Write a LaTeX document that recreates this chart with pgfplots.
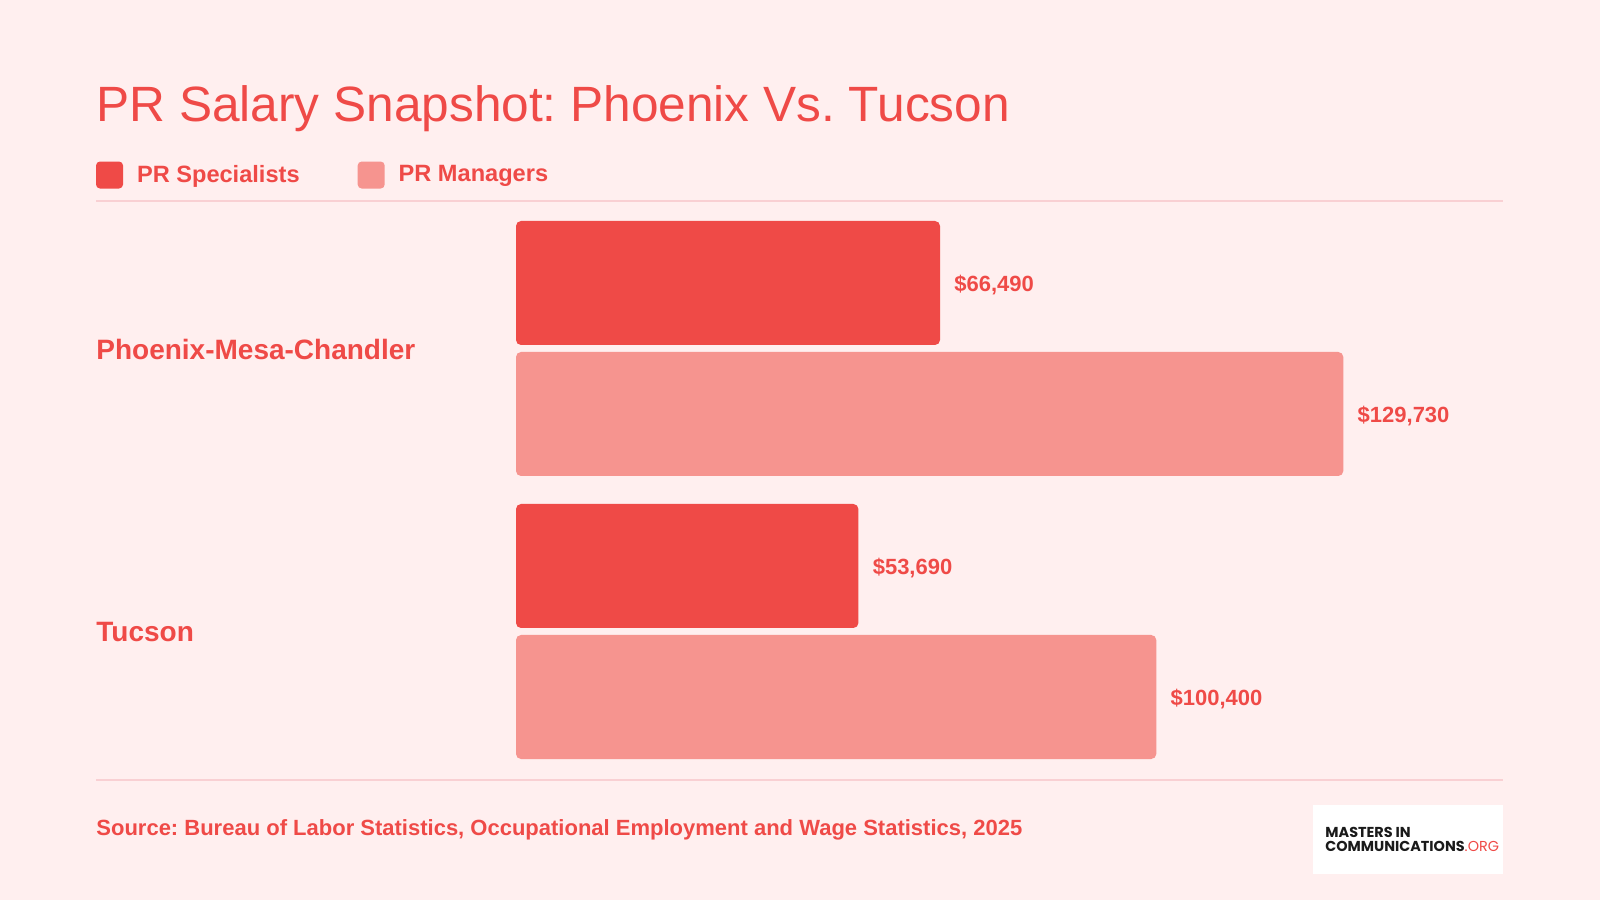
\documentclass[border=0pt]{standalone}
\usepackage{pgfplots}
\pgfplotsset{compat=1.18}
\usepackage{fontspec}
\setmainfont{Liberation Sans}
\newfontfamily\logofont{Poppins}
\frenchspacing

\definecolor{bg}{HTML}{FFEFEF}
\definecolor{red1}{HTML}{EF4A47}
\definecolor{red2}{HTML}{F6948F}
\definecolor{rulecol}{HTML}{F9D0D3}
\definecolor{ink}{HTML}{1A1A1A}

\begin{document}
\begin{tikzpicture}
% canvas in pixel-like units (1 unit = 0.5pt)
\begin{scope}[x=0.5pt,y=0.5pt]
  \fill[bg] (0,0) rectangle (1600,900);
  \node[anchor=base west, inner sep=0, text=red1, font=\fontsize{24.8}{30}\selectfont]
    at (96,778) {PR Salary Snapshot: Phoenix Vs. Tucson};
  \draw[rulecol, line width=1pt] (96,699) -- (1503,699);
  \draw[rulecol, line width=1pt] (96,120) -- (1503,120);
  \node[anchor=west, inner sep=0, text=red1, font=\bfseries\fontsize{11}{14}\selectfont]
    at (96,70) {Source: Bureau of Labor Statistics, Occupational Employment and Wage Statistics, 2025};
  \fill[white] (1313,26) rectangle (1503,95);
  \node[anchor=west, inner sep=0, align=left, text=ink, font=\logofont\bfseries\fontsize{7.2}{7}\selectfont]
    at (1325,61) {MASTERS IN\\COMMUNICATIONS{\color{red1}\mdseries.ORG}};
\end{scope}

\begin{axis}[
  at={(258pt,63.5pt)}, anchor=south west,
  scale only axis, width=446.4pt, height=283pt,
  xmin=0, xmax=140000, ymin=-0.5, ymax=1.5,
  xbar, bar width=62pt, clip=false,
  axis line style={draw=none}, major tick length=0pt,
  xtick=\empty,
  ytick={0,1}, yticklabels={Tucson, Phoenix-Mesa-Chandler},
  yticklabel style={anchor=west, inner sep=0pt, xshift=-210pt, yshift=-0.5pt, text=red1,
    font=\bfseries\fontsize{14}{17}\selectfont},
  nodes near coords={\$\pgfmathprintnumber[fixed,precision=0,1000 sep={,},assume math mode=true]{\pgfplotspointmeta}},
  every node near coord/.append style={anchor=west, inner sep=0pt, xshift=7pt, yshift=-1pt, text=red1,
    font=\bfseries\fontsize{11}{13}\selectfont},
  legend columns=2,
  legend style={at={(-0.4704,1.0565)}, anchor=west, draw=none, fill=none,
    inner sep=0pt, outer sep=0pt,
    nodes={inner sep=0pt, text=red1, font=\bfseries\fontsize{11.8}{14}\selectfont},
    /tikz/every odd column/.append style={column sep=7pt},
    /tikz/every even column/.append style={column sep=29pt}},
]
\addplot[fill=red1, draw=none, rounded corners=2.5pt, bar shift=32.75pt,
  legend image code/.code={\fill[red1, rounded corners=2pt] (0pt,-6.75pt) rectangle (13.5pt,6.75pt);}]
  coordinates {(66490,1) (53690,0)};
\addlegendentry{PR Specialists}
\addplot[fill=red2, draw=none, rounded corners=2.5pt, bar shift=-32.75pt,
  legend image code/.code={\fill[red2, rounded corners=2pt] (0pt,-6.75pt) rectangle (13.5pt,6.75pt);}]
  coordinates {(129730,1) (100400,0)};
\addlegendentry{PR Managers}
\end{axis}
\end{tikzpicture}
\end{document}
